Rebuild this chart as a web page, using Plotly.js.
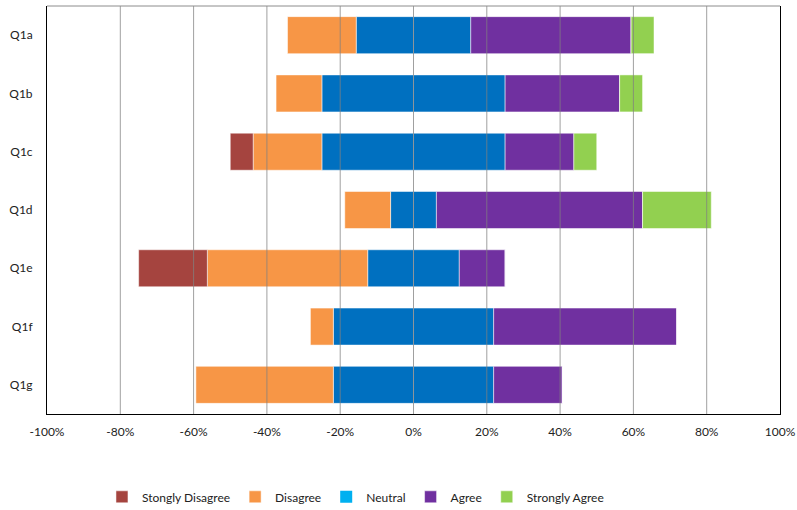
<!DOCTYPE html>
<html>
<head>
<meta charset="utf-8">
<script src="https://cdn.plot.ly/plotly-3.0.1.min.js"></script>
<style>html,body{margin:0;padding:0;background:#fff}#chart{width:797px;height:510px}</style>
</head>
<body>
<div id="chart"></div>
<script>
var questions = ['Q1a','Q1b','Q1c','Q1d','Q1e','Q1f','Q1g'];
var stronglyDisagree = [0, 0, 6.25, 0, 18.75, 0, 0];
var disagree         = [18.75, 12.5, 18.75, 12.5, 43.75, 6.25, 37.5];
var neutral          = [31.25, 50, 50, 12.5, 25, 43.75, 43.75];
var agree            = [43.75, 31.25, 18.75, 56.25, 12.5, 50, 18.75];
var stronglyAgree    = [6.25, 6.25, 6.25, 18.75, 0, 0, 0];
var tickVals = [-100,-80,-60,-40,-20,0,20,40,60,80,100];
var tickText = ['-100%','-80%','-60%','-40%','-20%','0%','20%','40%','60%','80%','100%'];

var neg = function(a){ return a.map(function(v){ return -v; }); };
var half = function(a){ return a.map(function(v){ return v/2; }); };
var lineStyle = {color:'rgba(255,255,255,0.5)', width:1};

var traces = [
  {type:'bar', orientation:'h', y:questions, x:neg(half(neutral)), name:'Neutral', showlegend:false,
   marker:{color:'#0070C0', line:lineStyle}},
  {type:'bar', orientation:'h', y:questions, x:half(neutral), name:'Neutral', showlegend:false,
   marker:{color:'#0070C0', line:lineStyle}},
  {type:'bar', orientation:'h', y:questions, x:neg(disagree), name:'Disagree', legendrank:2,
   marker:{color:'#F79646', line:lineStyle}},
  {type:'bar', orientation:'h', y:questions, x:agree, name:'Agree', legendrank:4,
   marker:{color:'#7030A0', line:lineStyle}},
  {type:'bar', orientation:'h', y:questions, x:neg(stronglyDisagree), name:'Stongly Disagree', legendrank:1,
   marker:{color:'#A5443F', line:lineStyle}},
  {type:'bar', orientation:'h', y:questions, x:stronglyAgree, name:'Strongly Agree', legendrank:5,
   marker:{color:'#92D050', line:lineStyle}},
  {type:'bar', orientation:'h', y:[questions[0]], x:[null], name:'Neutral', legendrank:3,
   marker:{color:'#00B0F0', line:{width:0}}}
];

var shapes = tickVals.filter(function(v){ return v > -100 && v < 100; }).map(function(v){
  return {type:'line', xref:'x', yref:'paper', x0:v, x1:v, y0:0, y1:1, layer:'above',
          line:{color:'rgba(128,128,128,0.75)', width:1}};
});
shapes.push({type:'line', xref:'paper', yref:'paper', x0:0, x1:1, y0:1, y1:1, layer:'above',
             line:{color:'#8C8C8C', width:1}});

var layout = {
  width:797, height:510,
  margin:{l:47, r:17, t:6, b:96, autoexpand:false},
  paper_bgcolor:'#fff', plot_bgcolor:'#fff',
  barmode:'relative', bargap:0.365,
  font:{family:'Lato, Carlito, sans-serif', size:12, color:'#222'},
  xaxis:{range:[-100,100], tickvals:tickVals, ticktext:tickText, showgrid:false, zeroline:false,
         showline:true, linecolor:'#000', linewidth:1, ticks:'outside', ticklen:7, tickcolor:'rgba(0,0,0,0)',
         tickfont:{size:12, color:'#222'}, automargin:false},
  yaxis:{autorange:'reversed', showgrid:false, zeroline:false, showline:true, mirror:true,
         linecolor:'#000', linewidth:1, ticks:'', ticklabelstandoff:11, tickfont:{size:12, color:'#222'},
         automargin:false},
  legend:{orientation:'h', x:0.075, xanchor:'left', y:-0.203, yanchor:'middle', font:{size:12, color:'#222'},
          traceorder:'normal', itemwidth:30},
  shapes:shapes
};

Plotly.newPlot('chart', traces, layout, {displayModeBar:false, staticPlot:true});
</script>
</body>
</html>
